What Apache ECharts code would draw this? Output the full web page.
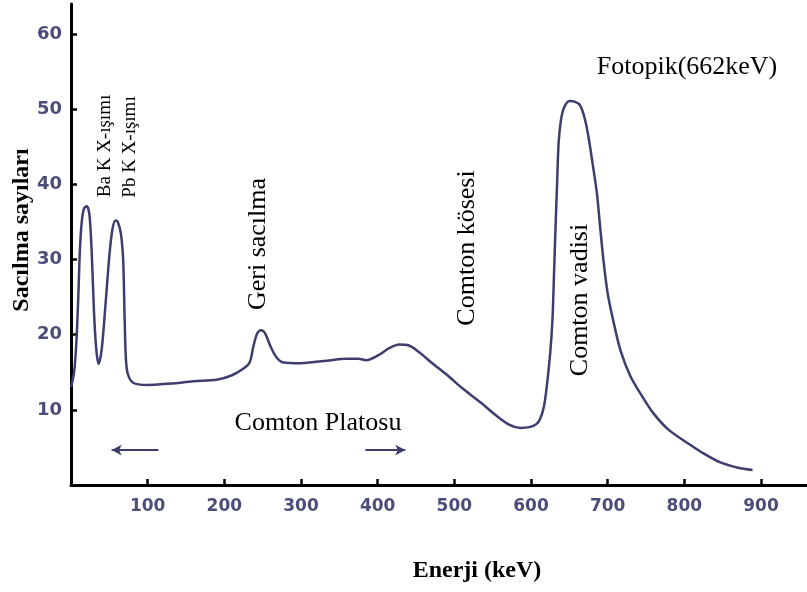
<!DOCTYPE html>
<html>
<head>
<meta charset="utf-8">
<script src="https://cdn.jsdelivr.net/npm/echarts@6/dist/echarts.min.js"></script>
<style>
html, body { margin: 0; background: #fff; }
#chart { width: 807px; height: 592px; }
</style>
</head>
<body>
<div id="chart"></div>
<script>
// spectrum (keV, counts)
const energy = [0, 4, 7, 9.5, 11.5, 14, 17, 20.5, 24, 27,
  30, 33, 36, 40, 45, 50, 54, 58, 61, 65,
  68, 70, 71.5, 74, 81, 99, 130, 160, 190, 210,
  225, 233, 238, 243, 248, 253, 260, 268, 277, 300,
  330, 360, 375, 385, 400, 415, 428, 440, 455, 470,
  491, 510, 534, 555, 572, 586, 598, 607, 612, 617,
  621, 625, 628, 630, 632, 634, 636, 639, 643, 650,
  657, 664, 670, 675, 680, 686, 690, 694.5, 700, 707,
  717, 730, 745, 760, 780, 804, 825, 847, 870, 889];
const counts = [13, 15, 19, 25, 31, 35, 36.8, 37.1, 36, 31,
  23, 18, 16.1, 18, 24, 30.5, 34, 35.2, 35, 33.5,
  30, 22, 17, 14.8, 13.6, 13.3, 13.5, 13.8, 14, 14.6,
  15.5, 16.3, 18.5, 20.2, 20.6, 20.2, 18.5, 17, 16.3, 16.2,
  16.5, 16.8, 16.8, 16.6, 17.2, 18.2, 18.7, 18.6, 17.6, 16.3,
  14.6, 12.9, 11, 9.2, 8, 7.6, 7.7, 8.1, 8.8, 10.5,
  13.5, 17.5, 22, 28, 34.3, 40, 45.5, 48.5, 50.2, 51.1,
  51, 50.5, 48.8, 46.3, 43, 38.8, 34.5, 29.9, 25.5, 22,
  17.8, 14.4, 11.8, 9.5, 7.3, 5.6, 4.2, 3, 2.3, 2];

// "Comton Platosu" arrows (keV span at a fixed count level)
const arrowLeft = [[114, 4.65], [53, 4.65]];
const arrowRight = [[384, 4.65], [436, 4.65]];

const serif = "'Liberation Serif', 'Times New Roman', serif";
const inkColor = "#3d3d6e";
const tickColor = "#4d4d7a";

const seriesData = energy.map((e, i) => [e, counts[i]]);

function arrowLine(pts) {
  return [
    { coord: pts[0], symbol: "none" },
    { coord: pts[1], symbol: "arrow", symbolSize: [8, 10] },
  ];
}

function vText(txt, x, y, size, bold) {
  return {
    type: "text",
    x: x,
    y: y,
    rotation: Math.PI / 2,
    style: {
      text: txt,
      font: (bold ? "bold " : "") + size + "px " + serif,
      fill: "#000",
      align: "center",
      verticalAlign: "middle",
    },
  };
}

function hText(txt, x, y, size, bold) {
  return {
    type: "text",
    x: x,
    y: y,
    style: {
      text: txt,
      font: (bold ? "bold " : "") + size + "px " + serif,
      fill: "#000",
      align: "center",
      verticalAlign: "middle",
    },
  };
}

const chart = echarts.init(document.getElementById("chart"));
chart.setOption({
  animation: false,
  backgroundColor: "#fff",
  grid: { left: 71, right: 0, top: 4, bottom: 107, outerBoundsMode: "none" },
  xAxis: {
    type: "value",
    min: 0,
    max: 960,
    interval: 100,
    axisLine: { lineStyle: { color: "#000", width: 3 } },
    axisTick: { inside: true, length: 6, lineStyle: { color: "#000", width: 2.5 } },
    axisLabel: {
      margin: 13,
      color: tickColor,
      fontFamily: "DejaVu Sans",
      fontWeight: "bold",
      fontSize: 17,
      showMinLabel: false,
      showMaxLabel: false,
    },
    splitLine: { show: false },
  },
  yAxis: {
    type: "value",
    min: 0,
    max: 64,
    interval: 10,
    axisLine: { show: true, lineStyle: { color: "#000", width: 3 } },
    axisTick: { show: true, inside: true, length: 6, lineStyle: { color: "#000", width: 2.5 } },
    axisLabel: {
      margin: 9,
      color: tickColor,
      fontFamily: "DejaVu Sans",
      fontWeight: "bold",
      fontSize: 18,
      showMinLabel: false,
      showMaxLabel: false,
    },
    splitLine: { show: false },
  },
  series: [
    {
      type: "line",
      data: seriesData,
      smooth: 0.3,
      showSymbol: false,
      lineStyle: { color: inkColor, width: 2.5 },
      markLine: {
        silent: true,
        label: { show: false },
        lineStyle: { color: inkColor, width: 2, type: "solid" },
        data: [arrowLine(arrowLeft), arrowLine(arrowRight)],
      },
    },
  ],
  graphic: [
    vText("Ba K X-ışımı", 105, 146, 19),
    vText("Pb K X-ışımı", 130, 147, 19),
    vText("Geri sacılma", 258, 244, 26),
    vText("Comton kösesi", 467, 248, 26),
    vText("Comton vadisi", 580, 300, 26),
    hText("Fotopik(662keV)", 687, 67, 26),
    hText("Comton Platosu", 318, 423, 26),
    vText("Sacılma sayıları", 22, 230, 24, true),
    hText("Enerji (keV)", 477, 571, 24, true),
  ],
});
</script>
</body>
</html>
